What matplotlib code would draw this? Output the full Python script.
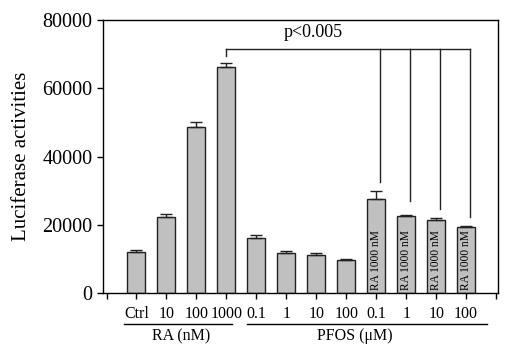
import matplotlib
matplotlib.use('Agg')
import matplotlib.pyplot as plt
import matplotlib.transforms as mtransforms

plt.rcParams['font.family'] = ['Liberation Serif', 'DejaVu Serif']
plt.rcParams['mathtext.fontset'] = 'stix'

labels = ['Ctrl', '10', '100', '1000', '0.1', '1', '10', '100', '0.1', '1', '10', '100']
values = [12100, 22200, 48600, 66200, 16300, 11700, 11200, 9650, 27700, 22500, 21450, 19400]
errors = [500, 1050, 1400, 1300, 850, 650, 650, 300, 2200, 450, 500, 400]
ra_added = [False] * 8 + [True] * 4
bracket_ends = [32600, 27000, 24700, 22400]

fig = plt.figure(figsize=(5.12, 3.56), dpi=100)
ax = fig.add_axes([0.201, 0.176, 0.772, 0.768])

pos = list(range(1, len(values) + 1))
ax.bar(pos, values, width=0.6, color='#c0c0c0', edgecolor='#222222', linewidth=1.0, zorder=2)
ax.errorbar(pos, values, yerr=[[0] * len(errors), errors], fmt='none', ecolor='#222222',
            elinewidth=1.0, capsize=4, capthick=1.0, zorder=3)

for p, v, ra in zip(pos, values, ra_added):
    if ra:
        ax.text(p, 900, 'RA 1000 nM', rotation=90, ha='center', va='bottom', fontsize=8.3)

# significance bracket
top = 71500
ax.plot([4, 4], [69400, top], color='#222222', lw=1.0)
xs = [p + 0.12 for p, ra in zip(pos, ra_added) if ra]
ax.plot([4, xs[-1]], [top, top], color='#222222', lw=1.0)
for x, e in zip(xs, bracket_ends):
    ax.plot([x, x], [e, top], color='#222222', lw=1.0)
ax.text(6.9, 73800, 'p<0.005', ha='center', va='bottom', fontsize=13)

ax.set_xlim(-0.12, 13.07)
ax.set_ylim(0, 80000)
ax.set_yticks([0, 20000, 40000, 60000, 80000])
ax.set_xticks(range(0, 14))
ax.set_xticklabels([''] + labels + [''], fontsize=11.5)
ax.tick_params(axis='y', labelsize=14.5, direction='out', length=4, width=1)
ax.tick_params(axis='x', direction='out', length=4, width=1, pad=5)
ax.set_ylabel('Luciferase activities', fontsize=15, labelpad=8)
for s in ax.spines.values():
    s.set_linewidth(1.0)

trans = mtransforms.blended_transform_factory(ax.transData, ax.transAxes)
ax.plot([0.6, 4.2], [-0.113, -0.113], color='black', lw=1.0, transform=trans, clip_on=False)
ax.plot([4.7, 12.7], [-0.113, -0.113], color='black', lw=1.0, transform=trans, clip_on=False)
ax.text(2.5, -0.128, 'RA (nM)', ha='center', va='top', fontsize=11.5, transform=trans)
ax.text(8.3, -0.128, 'PFOS (\u03bcM)', ha='center', va='top', fontsize=11.5, transform=trans)

fig.savefig('out.png', dpi=100)
